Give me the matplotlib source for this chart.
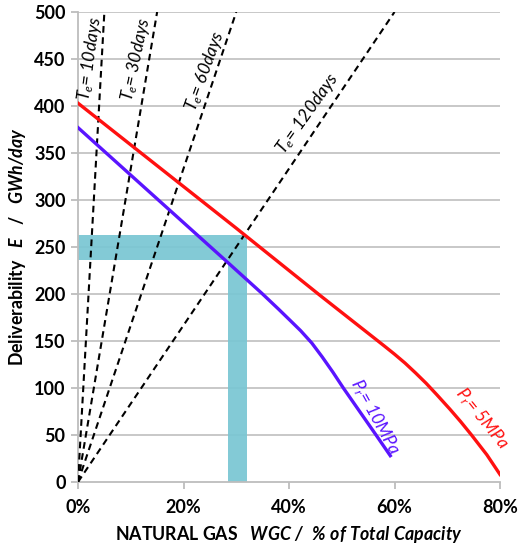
import numpy as np
import matplotlib
matplotlib.use("Agg")
import matplotlib.pyplot as plt

plt.rcParams['font.family'] = ['Lato', 'DejaVu Sans']
plt.rcParams['mathtext.fontset'] = 'custom'
plt.rcParams['mathtext.rm'] = 'Lato'
plt.rcParams['mathtext.it'] = 'Lato:italic'
plt.rcParams['mathtext.bf'] = 'Lato:bold'
plt.rcParams['mathtext.bfit'] = 'Lato:bold:italic'

# Deliverability curves: working gas (% of total capacity) vs E (GWh/day)
wgc_5mpa = [0, 30, 46, 58, 60, 62, 64, 66, 68, 70.5, 72.5, 74.6, 77.5, 80]
e_5mpa = [403, 270, 198, 145, 136, 126.5, 116, 105, 93, 77.5, 64.5, 50, 29, 8]

wgc_10mpa = [0, 28.5, 34.8, 38, 40.2, 42.2, 44.3, 46.3, 48.3, 50.3, 56.5, 59.2]
e_10mpa = [377, 233, 201, 184, 172, 161, 148, 133, 117, 100, 50, 28]

# Constant emptying-time lines
te_days = [10, 30, 60, 120]
total_capacity_gwh = 100000  # 100% WGC

# Highlighted operating window
band_wgc = [28.4, 32.0]
band_e = [236, 263]

x_ticks = [0, 20, 40, 60, 80]
y_ticks = [0, 50, 100, 150, 200, 250, 300, 350, 400, 450, 500]

red = '#FF1010'
blue = '#5A14FF'
band_color = '#79C6D3'

fig = plt.figure(figsize=(5.18, 5.51), dpi=100)
ax = fig.add_axes([78 / 518, 69 / 551, 422 / 518, 470 / 551])
ax.set_xlim(0, 80)
ax.set_ylim(0, 500)

# gridlines
for y in y_ticks[1:]:
    ax.axhline(y, color='#C8C8C8', lw=1.4, zorder=1)

# L-shaped highlight band
ax.fill([0, band_wgc[1], band_wgc[1], band_wgc[0], band_wgc[0], 0],
        [band_e[1], band_e[1], 0, 0, band_e[0], band_e[0]],
        color=band_color, alpha=0.92, lw=0, zorder=2)

# emptying-time lines E = capacity * WGC / Te
for te in te_days:
    x_end = 500 * te * 100 / total_capacity_gwh
    xs = np.array([0, x_end])
    ys = xs / 100 * total_capacity_gwh / te
    ax.plot(xs, ys, color='black', lw=1.5, ls=(0, (3.2, 2.2)), zorder=3)

ax.plot(wgc_5mpa, e_5mpa, color=red, lw=2.4, zorder=4, solid_joinstyle='round')
ax.plot(wgc_10mpa, e_10mpa, color=blue, lw=2.4, zorder=4, solid_joinstyle='round')

# labels for emptying-time lines: (x, y, rotation)
te_labels = {10: (2.3, 451, 82), 30: (11.1, 450, 78), 60: (24.1, 437, 70),
             120: (43.5, 392, 54.5)}
for te in te_days:
    x, y, rot = te_labels[te]
    ax.text(x, y, r'$T_e$= %ddays' % te, rotation=rot, ha='center', va='center',
            rotation_mode='anchor', fontsize=12.5, fontstyle='italic',
            color='black', zorder=5)

ax.text(56.3, 69, r'$P_r$= 10MPa', rotation=-61, ha='center', va='center',
        rotation_mode='anchor', fontsize=12.5, fontstyle='italic', color=blue,
        zorder=5)
ax.text(76.5, 68, r'$P_r$= 5MPa', rotation=-51, ha='center', va='center',
        rotation_mode='anchor', fontsize=12.5, fontstyle='italic', color=red,
        zorder=5)

for s in ['top', 'right']:
    ax.spines[s].set_visible(False)
for s in ['left', 'bottom']:
    ax.spines[s].set_color('#BDBDBD')
    ax.spines[s].set_linewidth(1.3)

ax.set_xticks(x_ticks)
ax.set_xticklabels(['%d%%' % v for v in x_ticks])
ax.set_yticks(y_ticks)
ax.set_yticklabels([str(v) for v in y_ticks])
ax.tick_params(axis='both', colors='#BDBDBD', labelcolor='black', length=5,
               width=1.3, labelsize=13)
for lab in ax.get_xticklabels() + ax.get_yticklabels():
    lab.set_fontweight('bold')
ax.tick_params(axis='y', pad=4)
ax.tick_params(axis='x', pad=7)

ax.set_xlabel(r'NATURAL GAS   $\mathbfit{WGC\ /\ \ \%\ of\ Total\ Capacity}$',
              fontsize=12.8, fontweight='bold', labelpad=6)
ax.set_ylabel(r'Deliverability   $\mathbfit{E}$   /   $\mathbfit{GWh/day}$',
              fontsize=12.8, fontweight='bold', labelpad=4)

fig.savefig('out.png', dpi=100)
